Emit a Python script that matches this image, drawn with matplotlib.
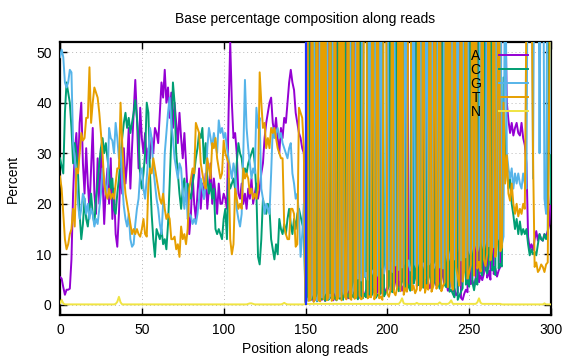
from matplotlib import pyplot as plt
from matplotlib.lines import Line2D
import numpy as np

# positions along reads (0..300)
positions = np.arange(301)
boundary = 150  # mate boundary marker

# percent A / C / G / T / N
pct_a = [
    5.5, 5.2, 3.5, 2.0, 3.0, 3.0, 3.2, 9, 22, 30,
    34, 26, 36, 40, 28, 22, 31, 24, 19, 27,
    35, 22, 18, 29, 20, 31, 25, 16, 23, 27,
    20, 29, 17, 23, 14, 11.5, 18, 27, 22, 31,
    24, 28, 35, 23, 31, 38, 44.5, 37, 27, 39,
    33, 30, 34, 28, 31, 29, 33, 30, 35, 34,
    32, 38, 44, 41, 46.5, 40, 43, 37, 42, 35,
    40, 36, 32, 38, 33, 29, 34, 28, 22, 14,
    18, 26, 20, 17, 22, 27, 19, 24, 21, 26,
    19, 23, 28, 20, 25, 22, 18, 24, 20, 20,
    22, 21, 19, 38, 52, 40, 33, 34, 30, 22,
    21, 24, 20, 22, 19, 23, 21, 25, 20, 22,
    24, 21, 23, 26, 28, 33, 36, 38, 40, 41,
    36, 34, 37, 33, 30, 35, 33, 37, 36, 40,
    44, 46.5, 44, 42.5, 38, 36, 34, 33, 31, 30,
    0.8, 1.2, 0.9, 88, 1.5, 0.7, 1.1, 2.0, 91, 1.3,
    1.0, 1.6, 0.8, 1.4, 86, 2.1, 1.2, 0.9, 1.8, 90,
    1.5, 2.2, 1.1, 1.7, 2.5, 87, 1.3, 2.0, 1.6, 2.4,
    93, 1.9, 2.6, 1.4, 85, 2.2, 1.8, 2.9, 2.1, 1.7,
    89, 2.4, 3.1, 1.9, 2.7, 92, 2.3, 3.4, 2.0, 2.8,
    3.6, 88, 2.9, 4.2, 3.1, 5.0, 90, 3.5, 4.6, 2.8,
    3.9, 5.4, 86, 4.1, 3.2, 4.8, 5.9, 91, 3.7, 4.4,
    5.2, 3.6, 4.9, 87, 5.8, 4.0, 3.3, 5.5, 89, 4.6,
    3.8, 5.1, 4.3, 92, 5.6, 3.9, 4.7, 2.8, 3.5, 85,
    2.6, 3.2, 1.9, 2.4, 88, 1.4, 1.0, 2.2, 3.0, 2.5,
    90, 4.1, 4.8, 3.6, 5.3, 87, 4.5, 5.8, 4.9, 6.2,
    84, 5.4, 6.7, 5.0, 89, 6.1, 7.2, 5.6, 6.8, 7.5,
    92, 80, 60, 40, 36.5, 34, 36, 33.5, 35, 36,
    34, 33.5, 36, 33, 31.6, 28, 13.5, 11, 12, 10.8,
    13, 14.6, 12.7, 14, 13, 12.7, 14, 13.5, 14.6, 16,
    22,
]

pct_c = [
    29, 27.5, 26, 38, 44, 42, 40, 35, 28, 32,
    30, 26, 18, 13, 16, 21, 17, 15.5, 19, 22,
    18, 16, 21, 24, 28, 31, 33, 30, 32, 29,
    26, 23, 25, 19, 18, 22, 25, 29, 33, 36,
    38, 35, 37, 34, 36, 38, 40.5, 37, 33, 25,
    23, 26, 30, 40, 38, 26, 18, 13, 9.5, 15,
    14, 13, 15, 12, 13, 11, 16, 24, 33, 44,
    40, 30, 26, 22, 19, 23, 25, 21, 24, 22,
    21, 24, 26, 29, 31, 34, 33, 35, 28, 32,
    25, 22, 24, 21, 23, 15, 14, 15, 14, 13,
    17, 19, 13, 25, 23, 24, 25, 23, 28, 32,
    30, 29, 26, 27, 26, 28, 29, 30, 31, 28,
    22, 9.5, 8, 13, 21, 19, 18, 20, 19, 13,
    11, 9, 12, 10, 17, 15, 14, 16, 14, 17,
    19, 16, 14, 17, 15, 18, 19, 17.5, 16, 15,
    0.6, 1.0, 84, 0.9, 1.3, 1.8, 90, 0.7, 1.2, 1.5,
    1.1, 88, 0.8, 1.7, 1.0, 1.4, 86, 2.0, 1.3, 0.9,
    91, 1.2, 1.8, 1.0, 87, 1.5, 2.1, 1.3, 89, 1.6,
    1.4, 2.0, 1.1, 92, 1.7, 1.3, 2.2, 1.5, 85, 1.9,
    1.6, 2.3, 88, 1.4, 2.0, 1.8, 2.5, 90, 1.7, 2.4,
    2.9, 3.8, 86, 2.5, 3.3, 91, 4.0, 2.7, 3.5, 4.6,
    87, 3.1, 4.4, 3.6, 2.8, 89, 4.2, 5.3, 84, 3.9,
    4.7, 90, 3.4, 5.0, 4.1, 88, 5.6, 4.3, 3.7, 5.1,
    86, 4.5, 3.2, 5.4, 91, 4.0, 3.5, 87, 2.6, 3.0,
    2.2, 1.5, 89, 1.0, 1.8, 2.6, 3.3, 85, 4.0, 4.8,
    3.6, 90, 4.4, 2.9, 5.2, 4.0, 88, 6.5, 5.8, 86,
    7.0, 6.2, 8.0, 87, 6.8, 7.5, 5.9, 92, 7.2, 8.1,
    7.6, 45, 29.5, 27, 23, 25, 20, 17.8, 15, 17,
    14, 16.5, 13.9, 15, 14, 15, 12, 9.8, 11, 10,
    10.5, 9.8, 12, 14, 13, 12.7, 14, 13, 14, 70,
    20,
]

pct_g = [
    49, 50.5, 49, 44, 43, 44, 46.5, 46, 32, 29,
    24, 20, 17, 19, 22, 21, 18, 20, 17, 19,
    18, 15.5, 17, 16, 19, 22, 27, 25, 22, 24,
    35, 33, 32.5, 30, 36, 33, 29, 31, 24, 19.5,
    17, 15.5, 18, 13, 11.5, 12, 16, 19, 21, 26,
    27, 23, 21, 25, 30, 35, 33, 27, 24, 21,
    19, 16, 14, 20, 30, 34, 38, 41, 36, 33,
    29, 27, 25, 28, 27, 22, 19, 24, 17, 18,
    17.5, 16, 17, 16, 18, 21, 25, 23, 21, 24,
    31, 35, 33, 31, 34, 32, 30, 36.5, 34, 35,
    33, 34, 31, 29, 27, 25, 28, 26, 19, 17,
    15.5, 18, 30, 44.5, 35, 31, 28, 25, 27, 26,
    39, 35, 37, 23, 21, 18, 20, 19, 18, 26,
    35, 33, 34, 35, 33, 34, 32, 31, 30, 29,
    31, 32, 26, 24, 21, 22, 18, 9.5, 14, 20,
    0.5, 0.9, 1.4, 1.1, 2.0, 89, 1.6, 0.8, 2.3, 88,
    1.5, 1.9, 2.4, 90, 1.2, 2.0, 1.7, 86, 2.5, 1.8,
    2.2, 1.6, 91, 2.7, 1.9, 2.4, 3.0, 87, 2.1, 2.8,
    4.5, 88, 5.2, 6.0, 4.8, 90, 5.5, 6.3, 4.9, 85,
    5.8, 6.6, 7.1, 89, 6.0, 5.4, 92, 7.5, 6.2, 8.0,
    87, 7.0, 8.3, 6.5, 90, 7.8, 8.6, 6.9, 88, 7.4,
    8.1, 91, 7.2, 8.8, 6.8, 7.6, 86, 8.0, 7.3, 8.5,
    89, 7.7, 8.2, 7.0, 92, 7.9, 8.4, 85, 7.1, 7.8,
    8.6, 88, 7.4, 8.0, 7.2, 90, 10.0, 8.5, 9.6, 11.0,
    87, 9.0, 10.5, 91, 11.2, 8.8, 86, 10.2, 9.4, 89,
    10.8, 9.9, 11.5, 88, 12.0, 10.6, 11.8, 90, 12.4, 11.0,
    12.8, 87, 11.6, 13.0, 12.2, 11.4, 92, 12.6, 13.4, 88,
    12.0, 13.5, 80, 30, 27, 25, 27, 23, 26, 24,
    26, 24, 23, 26, 24, 23, 90, 60, 95, 25,
    85, 70, 90, 30, 88, 92, 21, 18, 85, 90,
    30,
]

pct_t = [
    25.4, 23, 18, 13, 11, 12, 14, 15, 19, 15.5,
    27, 26, 30, 34, 32.5, 33, 37, 37, 47, 36,
    40, 43, 42, 41, 38, 34, 30, 24, 22, 21,
    23, 21, 22, 21, 24, 27, 27, 40, 32, 26,
    22, 20, 18, 16, 14, 15, 14, 15, 14, 13.5,
    15, 17, 14, 13.5, 24, 27, 26, 29, 27, 25,
    23, 21, 20, 22, 19, 17, 18, 17, 13, 13,
    13.5, 11, 12, 9.5, 15.5, 13, 14, 12, 15, 23,
    25, 27, 26, 36, 35, 34, 28, 26, 24, 23,
    29, 27, 25, 32, 31, 33, 29, 27, 25, 26,
    32.5, 30, 29, 28, 13, 10, 12, 23, 21, 19,
    20, 19, 27, 25, 26, 25, 22, 23, 21, 22,
    21, 23, 46, 40, 35, 36, 31, 33, 31, 35,
    34, 35, 33, 31, 30, 29, 29, 15.5, 14, 13,
    13, 19, 19, 18, 11.5, 12, 39, 38, 37, 31,
    0.4, 91, 0.8, 1.0, 87, 0.6, 1.3, 89, 0.9, 0.7,
    90, 1.1, 88, 0.9, 1.5, 92, 0.8, 1.2, 86, 1.0,
    1.3, 89, 0.9, 91, 1.6, 1.1, 87, 1.4, 1.0, 90,
    1.2, 1.5, 88, 1.8, 1.1, 1.4, 93, 85, 1.3, 1.7,
    1.5, 90, 1.1, 1.9, 87, 1.3, 1.6, 1.0, 91, 86,
    2.2, 1.6, 3.0, 89, 2.5, 1.9, 3.4, 92, 2.7, 88,
    2.0, 3.3, 2.6, 90, 87, 2.9, 3.8, 2.3, 3.1, 91,
    2.8, 3.5, 86, 2.4, 3.9, 3.0, 89, 2.6, 3.6, 90,
    3.2, 4.1, 88, 2.7, 3.7, 4.4, 85, 3.5, 92, 4.8,
    3.0, 87, 7.5, 5.5, 3.8, 90, 4.6, 6.8, 88, 5.2,
    6.4, 7.9, 91, 5.8, 86, 7.2, 8.5, 6.6, 89, 9.0,
    7.7, 10.2, 90, 8.8, 11.0, 87, 9.5, 12.0, 92, 10.6,
    11.4, 40, 24, 29.6, 22, 20.6, 24, 20, 18, 20,
    17.5, 19, 18, 20, 19, 60, 90, 92, 70, 30,
    7.5, 8.4, 6.5, 7, 8, 7.5, 6.5, 8, 8.4, 45,
    95,
]

pct_n = [
    0.3, 1.0, 0.3, 0.1, 0.1, 0.1, 0.1, 0.1, 0.1, 0.1, 0.1, 0.1, 0.1, 0.1, 0.1,
    0.1, 0.1, 0.1, 0.1, 0.1, 0.1, 0.1, 0.1, 0.1, 0.1, 0.1, 0.1, 0.1, 0.1, 0.1,
    0.1, 0.1, 0.1, 0.1, 0.2, 0.6, 1.6, 0.5, 0.1, 0.1, 0.1, 0.1, 0.1, 0.1, 0.1,
    0.1, 0.1, 0.1, 0.1, 0.1, 0.1, 0.1, 0.1, 0.1, 0.1, 0.1, 0.1, 0.1, 0.1, 0.1,
    0.1, 0.1, 0.1, 0.1, 0.1, 0.1, 0.1, 0.1, 0.1, 0.1, 0.1, 0.1, 0.1, 0.1, 0.1,
    0.1, 0.1, 0.1, 0.1, 0.1, 0.1, 0.1, 0.1, 0.1, 0.1, 0.1, 0.1, 0.1, 0.1, 0.1,
    0.1, 0.1, 0.1, 0.1, 0.1, 0.1, 0.1, 0.1, 0.1, 0.1, 0.1, 0.1, 0.1, 0.1, 0.1,
    0.1, 0.1, 0.1, 0.1, 0.1, 0.1, 0.1, 0.1, 0.1, 0.1, 0.2, 0.3, 0.3, 0.2, 0.1,
    0.1, 0.1, 0.1, 0.1, 0.1, 0.1, 0.1, 0.1, 0.1, 0.1, 0.1, 0.1, 0.1, 0.1, 0.1,
    0.1, 0.2, 0.4, 0.2, 0.1, 0.1, 0.1, 0.1, 0.1, 0.1, 0.1, 0.1, 0.1, 0.1, 0.1,
    0.2, 0.2, 0.2, 0.2, 0.2, 0.2, 0.2, 0.2, 0.2, 0.2, 0.2, 0.2, 0.2, 0.2, 0.2,
    0.2, 0.2, 0.2, 0.2, 0.2, 0.2, 0.2, 0.2, 0.2, 0.2, 0.2, 0.2, 0.2, 0.2, 0.2,
    0.2, 0.2, 0.2, 0.2, 0.2, 0.2, 0.2, 0.2, 0.2, 0.2, 0.2, 0.2, 0.2, 0.2, 0.2,
    0.2, 0.2, 0.2, 0.2, 0.2, 0.2, 0.2, 0.2, 0.2, 0.2, 0.2, 0.2, 0.2, 0.6, 1.3,
    0.3, 0.2, 0.2, 0.2, 0.2, 0.2, 0.2, 0.2, 0.4, 0.2, 0.2, 0.2, 0.2, 0.2, 0.2,
    0.2, 0.2, 0.2, 0.2, 0.2, 0.2, 0.2, 0.5, 0.2, 0.2, 0.2, 0.2, 0.2, 0.4, 0.9,
    0.2, 0.2, 0.2, 0.2, 0.2, 0.2, 0.2, 0.2, 0.2, 0.2, 0.2, 0.2, 0.2, 0.2, 0.2,
    0.5, 1.3, 0.4, 0.2, 0.2, 0.2, 0.2, 0.2, 0.2, 0.2, 0.2, 0.2, 0.2, 0.2, 0.2,
    0.1, 0.1, 0.1, 0.1, 0.1, 0.1, 0.1, 0.1, 0.1, 0.1, 0.1, 0.1, 0.1, 0.1, 0.1,
    0.1, 0.1, 0.1, 0.1, 0.1, 0.1, 0.1, 0.1, 0.1, 0.1, 0.1, 0.3, 0.1, 0.1, 0.1,
    0.1,
]

bases = ["A", "C", "G", "T", "N"]
colors = ["#9400d3", "#009e73", "#56b4e9", "#e69f00", "#f0e442"]

plt.rcParams["font.family"] = ["Liberation Sans", "DejaVu Sans"]
plt.rcParams["font.size"] = 10

fig = plt.figure(figsize=(5.76, 3.6), dpi=100, facecolor="white")
ax = fig.add_axes([60 / 576, 1 - 315 / 360, 491 / 576, 273 / 360])

for name, vals, col in zip(bases, [pct_a, pct_c, pct_g, pct_t, pct_n], colors):
    ax.plot(positions, vals, color=col, lw=1.4, zorder=3)

ax.vlines(boundary, 0, 100, color="#2030ff", lw=1.6, zorder=4)

ax.set_xlim(0, 300)
ax.set_ylim(-2, 52)
ax.set_xticks(np.arange(0, 301, 50))
ax.set_yticks(np.arange(0, 51, 10))
ax.tick_params(direction="in", length=5, width=1, top=True, right=True, pad=6)
ax.grid(True, color="#b8b8b8", lw=0.7, linestyle=(0, (1, 3)))
ax.set_axisbelow(True)
for sp in ax.spines.values():
    sp.set_linewidth(1.6)

ax.set_xlabel("Position along reads", labelpad=3.5)
ax.set_ylabel("Percent", labelpad=12)
fig.text(305 / 576, 1 - 19 / 360, "Base percentage composition along reads",
         ha="center", va="center")

handles = [Line2D([], [], color=c, lw=1.4) for c in colors]
leg = ax.legend(handles, bases, loc="upper right", bbox_to_anchor=(0.953, 0.974),
                markerfirst=False, frameon=False, handlelength=2.1,
                handletextpad=1.3, labelspacing=0.0, borderpad=0, borderaxespad=0)
leg.set_zorder(5)

plt.savefig("out.png", dpi=100)
